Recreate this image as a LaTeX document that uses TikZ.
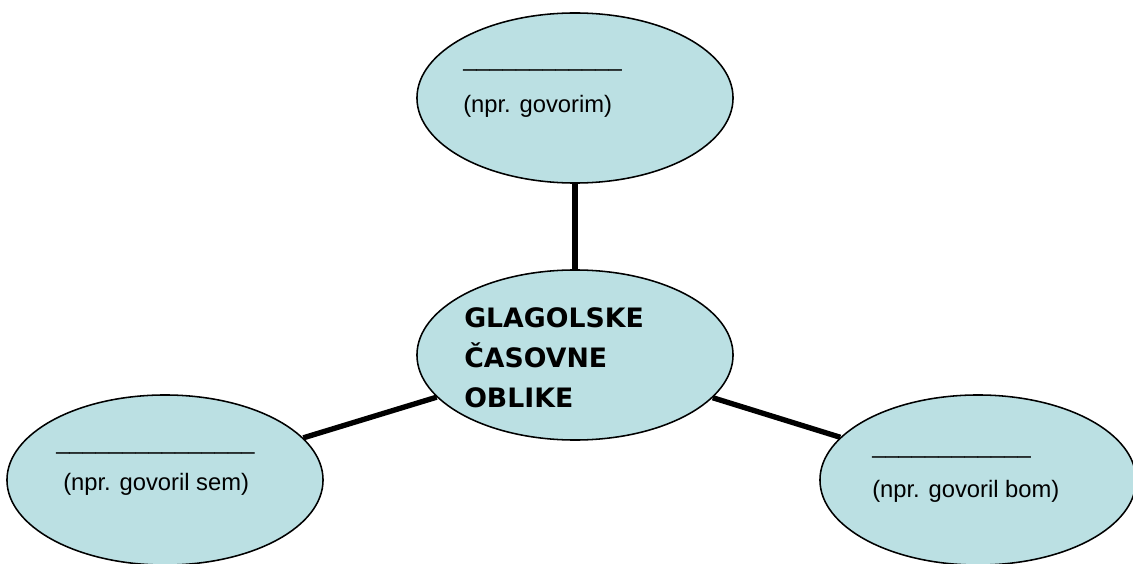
\documentclass[tikz,border=0pt]{standalone}
\usepackage{fontspec}
\setmainfont{Liberation Sans}
\newfontfamily\titlefont{DejaVu Sans}
\usetikzlibrary{shapes.geometric}
\definecolor{ovalblue}{RGB}{187,224,227}

\begin{document}
\begin{tikzpicture}[x=0.025cm,y=-0.025cm,
oval/.style={ellipse,
  draw=black,
  line width=1.1pt,
  fill=ovalblue,
  minimum width=7.9cm,
  minimum height=4.25cm,
  inner sep=0pt
},
link/.style={line width=3.8pt},
caption/.style={anchor=base west,inner sep=0pt,
  font=\fontsize{16.9}{20}\selectfont
}]
\useasboundingbox (0,0) rectangle (1133,564);

\node (c) [oval] at (575,355) {};

\node (top) [oval] at (575,98) {};

\node (past) [oval] at (165,480) {};

\node (fut) [oval] at (978,480) {};

\draw [link] (top) -- (c);
\draw [link] (past) -- (c);
\draw [link] (c) -- (fut);

\node (ctitle) [anchor=west,inner sep=0pt,align=left,
  font=\titlefont\bfseries\fontsize{19}{28.4}\selectfont] at (464,358)
  {GLAGOLSKE\\ČASOVNE\\OBLIKE};

\node (tline) [caption] at (463,67) {\_\_\_\_\_\_\_\_\_\_\_\_};
\node (ttext) [caption] at (463,113) {(npr. govorim)};

\node (pline) [caption] at (56,449) {\_\_\_\_\_\_\_\_\_\_\_\_\_\_\_};
\node (ptext) [caption] at (63,490) {(npr. govoril sem)};

\node (fline) [caption] at (872,453) {\_\_\_\_\_\_\_\_\_\_\_\_};
\node (ftext) [caption] at (872,497) {(npr. govoril bom)};
\end{tikzpicture}
\end{document}
